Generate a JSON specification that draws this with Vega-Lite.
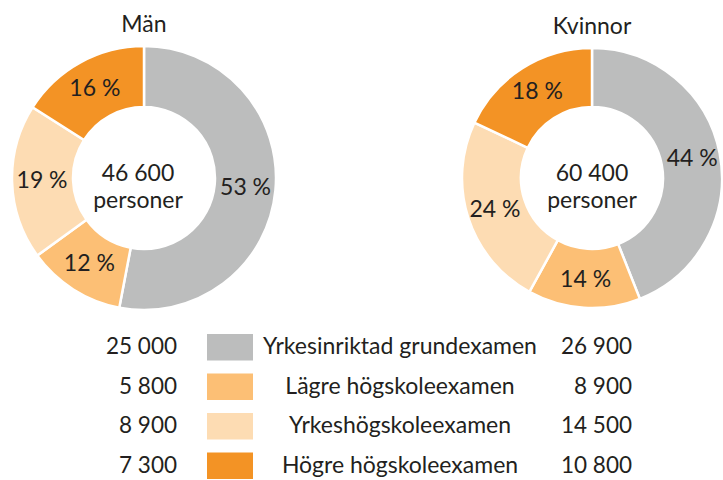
{
  "$schema": "https://vega.github.io/schema/vega-lite/v6.json",
  "padding": {"top": 14, "left": 0, "right": 0, "bottom": 0},
  "config": {
    "view": {"stroke": null},
    "font": "Lato",
    "locale": {"number": {"decimal": ",", "thousands": " ", "grouping": [3], "currency": ["", " kr"]}}
  },
  "datasets": {
    "d": [
      {"kon": "Män", "cat": "Yrkesinriktad grundexamen", "pct": 53, "antal": 25000},
      {"kon": "Män", "cat": "Lägre högskoleexamen", "pct": 12, "antal": 5800},
      {"kon": "Män", "cat": "Yrkeshögskoleexamen", "pct": 19, "antal": 8900},
      {"kon": "Män", "cat": "Högre högskoleexamen", "pct": 16, "antal": 7300},
      {"kon": "Kvinnor", "cat": "Yrkesinriktad grundexamen", "pct": 44, "antal": 26900},
      {"kon": "Kvinnor", "cat": "Lägre högskoleexamen", "pct": 14, "antal": 8900},
      {"kon": "Kvinnor", "cat": "Yrkeshögskoleexamen", "pct": 24, "antal": 14500},
      {"kon": "Kvinnor", "cat": "Högre högskoleexamen", "pct": 18, "antal": 10800}
    ],
    "tot": [
      {"kon": "Män", "total": 46600},
      {"kon": "Kvinnor", "total": 60400}
    ]
  },
  "spacing": 18.5,
  "vconcat": [
    {
      "hconcat": [
        {
          "width": 288, "height": 264,
          "title": {"text": "Män", "fontSize": 23, "fontWeight": "normal", "color": "#231f20", "offset": 4, "font": "Lato"},
          "layer": [
            {
              "data": {"name": "d"},
              "transform": [
                {"filter": "datum.kon === 'Män'"},
                {"calculate": "indexof(['Yrkesinriktad grundexamen','Lägre högskoleexamen','Yrkeshögskoleexamen','Högre högskoleexamen'], datum.cat)", "as": "o"}
              ],
              "mark": {"type": "arc", "radius": 132, "innerRadius": 71, "stroke": "white", "strokeWidth": 2.5},
              "encoding": {
                "theta": {"field": "pct", "type": "quantitative", "stack": true},
                "order": {"field": "o", "type": "quantitative"},
                "color": {"field": "cat", "type": "nominal", "legend": null,
                  "scale": {"domain": ["Yrkesinriktad grundexamen", "Lägre högskoleexamen", "Yrkeshögskoleexamen", "Högre högskoleexamen"],
                            "range": ["#bcbdbd", "#fcbf75", "#fddcb3", "#f39325"]}}
              }
            },
            {
              "data": {"name": "d"},
              "transform": [
                {"filter": "datum.kon === 'Män'"},
                {"calculate": "indexof(['Yrkesinriktad grundexamen','Lägre högskoleexamen','Yrkeshögskoleexamen','Högre högskoleexamen'], datum.cat)", "as": "o"},
                {"calculate": "datum.pct + ' %'", "as": "lbl"}
              ],
              "mark": {"type": "text", "radius": 102, "fontSize": 23, "color": "#231f20"},
              "encoding": {
                "theta": {"field": "pct", "type": "quantitative", "stack": true},
                "order": {"field": "o", "type": "quantitative"},
                "detail": {"field": "cat", "type": "nominal"},
                "text": {"field": "lbl", "type": "nominal"}
              }
            },
            {
              "data": {"name": "tot"},
              "transform": [{"filter": "datum.kon === 'Män'"}],
              "mark": {"type": "text", "fontSize": 23, "baseline": "alphabetic", "dy": 3, "dx": -6, "color": "#231f20"},
              "encoding": {"text": {"field": "total", "type": "quantitative", "format": ","}}
            },
            {
              "data": {"name": "tot"},
              "transform": [{"filter": "datum.kon === 'Män'"}],
              "mark": {"type": "text", "fontSize": 23, "baseline": "alphabetic", "dy": 30, "dx": -6, "color": "#231f20", "text": "personer"},
              "encoding": {}
            }
          ]
        },
        {
          "width": 260, "height": 264,
          "title": {"text": "Kvinnor", "fontSize": 23, "fontWeight": "normal", "color": "#231f20", "offset": 4, "font": "Lato"},
          "layer": [
            {
              "data": {"name": "d"},
              "transform": [
                {"filter": "datum.kon === 'Kvinnor'"},
                {"calculate": "indexof(['Yrkesinriktad grundexamen','Lägre högskoleexamen','Yrkeshögskoleexamen','Högre högskoleexamen'], datum.cat)", "as": "o"}
              ],
              "mark": {"type": "arc", "radius": 130, "innerRadius": 71, "stroke": "white", "strokeWidth": 2.5},
              "encoding": {
                "theta": {"field": "pct", "type": "quantitative", "stack": true},
                "order": {"field": "o", "type": "quantitative"},
                "color": {"field": "cat", "type": "nominal", "legend": null,
                  "scale": {"domain": ["Yrkesinriktad grundexamen", "Lägre högskoleexamen", "Yrkeshögskoleexamen", "Högre högskoleexamen"],
                            "range": ["#bcbdbd", "#fcbf75", "#fddcb3", "#f39325"]}}
              }
            },
            {
              "data": {"name": "d"},
              "transform": [
                {"filter": "datum.kon === 'Kvinnor'"},
                {"calculate": "indexof(['Yrkesinriktad grundexamen','Lägre högskoleexamen','Yrkeshögskoleexamen','Högre högskoleexamen'], datum.cat)", "as": "o"},
                {"calculate": "datum.pct + ' %'", "as": "lbl"}
              ],
              "mark": {"type": "text", "radius": 102, "fontSize": 23, "color": "#231f20"},
              "encoding": {
                "theta": {"field": "pct", "type": "quantitative", "stack": true},
                "order": {"field": "o", "type": "quantitative"},
                "detail": {"field": "cat", "type": "nominal"},
                "text": {"field": "lbl", "type": "nominal"}
              }
            },
            {
              "data": {"name": "tot"},
              "transform": [{"filter": "datum.kon === 'Kvinnor'"}],
              "mark": {"type": "text", "fontSize": 23, "baseline": "alphabetic", "dy": 3, "color": "#231f20"},
              "encoding": {"text": {"field": "total", "type": "quantitative", "format": ","}}
            },
            {
              "data": {"name": "tot"},
              "transform": [{"filter": "datum.kon === 'Kvinnor'"}],
              "mark": {"type": "text", "fontSize": 23, "baseline": "alphabetic", "dy": 30, "color": "#231f20", "text": "personer"},
              "encoding": {}
            }
          ]
        }
      ],
      "spacing": 174,
      "bounds": "flush"
    },
    {
      "hconcat": [
        {
          "width": 177, "height": 142,
          "data": {"name": "d"},
          "transform": [{"filter": "datum.kon === 'Män'"}],
          "mark": {"type": "text", "align": "right", "baseline": "middle", "fontSize": 22.5, "color": "#231f20"},
          "encoding": {
            "y": {"field": "cat", "type": "nominal", "sort": ["Yrkesinriktad grundexamen", "Lägre högskoleexamen", "Yrkeshögskoleexamen", "Högre högskoleexamen"], "scale": {"type": "point", "padding": 0.3}, "axis": null},
            "x": {"datum": 1, "type": "quantitative", "scale": {"domain": [0, 1]}, "axis": null},
            "text": {"field": "antal", "type": "quantitative", "format": ","}
          }
        },
        {
          "width": 106, "height": 142,
          "data": {"name": "d"},
          "transform": [{"filter": "datum.kon === 'Män'"}],
          "mark": {"type": "point", "filled": true, "opacity": 1, "strokeWidth": 0, "shape": "M-1,-0.576H1V0.576H-1Z", "size": 2116},
          "encoding": {
            "y": {"field": "cat", "type": "nominal", "sort": ["Yrkesinriktad grundexamen", "Lägre högskoleexamen", "Yrkeshögskoleexamen", "Högre högskoleexamen"], "scale": {"type": "point", "padding": 0.3}, "axis": null},
            "color": {"field": "cat", "type": "nominal", "legend": null,
              "scale": {"domain": ["Yrkesinriktad grundexamen", "Lägre högskoleexamen", "Yrkeshögskoleexamen", "Högre högskoleexamen"],
                        "range": ["#bcbdbd", "#fcbf75", "#fddcb3", "#f39325"]}}
          }
        },
        {
          "width": 234, "height": 142,
          "data": {"name": "d"},
          "transform": [{"filter": "datum.kon === 'Män'"}],
          "mark": {"type": "text", "align": "center", "baseline": "middle", "fontSize": 23, "color": "#231f20"},
          "encoding": {
            "y": {"field": "cat", "type": "nominal", "sort": ["Yrkesinriktad grundexamen", "Lägre högskoleexamen", "Yrkeshögskoleexamen", "Högre högskoleexamen"], "scale": {"type": "point", "padding": 0.3}, "axis": null},
            "text": {"field": "cat", "type": "nominal"}
          }
        },
        {
          "width": 115, "height": 142,
          "data": {"name": "d"},
          "transform": [{"filter": "datum.kon === 'Kvinnor'"}],
          "mark": {"type": "text", "align": "right", "baseline": "middle", "fontSize": 22.5, "color": "#231f20"},
          "encoding": {
            "y": {"field": "cat", "type": "nominal", "sort": ["Yrkesinriktad grundexamen", "Lägre högskoleexamen", "Yrkeshögskoleexamen", "Högre högskoleexamen"], "scale": {"type": "point", "padding": 0.3}, "axis": null},
            "x": {"datum": 1, "type": "quantitative", "scale": {"domain": [0, 1]}, "axis": null},
            "text": {"field": "antal", "type": "quantitative", "format": ","}
          }
        }
      ],
      "spacing": 0,
      "bounds": "flush"
    }
  ]
}
